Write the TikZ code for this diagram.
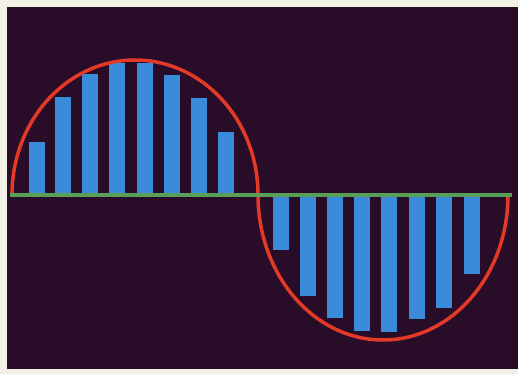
\documentclass[tikz,border=0pt]{standalone}
\definecolor{paper}{RGB}{243,241,230}
\definecolor{bgdark}{RGB}{40,12,40}
\definecolor{barblue}{RGB}{58,140,218}
\definecolor{curvered}{RGB}{226,58,38}
\definecolor{axisgreen}{RGB}{88,160,88}
\begin{document}
\begin{tikzpicture}[x=1pt,y=1pt,
  bar/.style={fill=barblue},
  curve/.style={draw=curvered,line width=3.5pt},
  axisline/.style={draw=axisgreen,line width=4pt}]
% canvas (y up: Y = 374 - y_image)
\fill[paper] (0,0) rectangle (518,374);
\useasboundingbox (0,0) rectangle (518,374);
\fill[bgdark] (7,5) rectangle (518,367);
% upper bars: x_left, x_right, top (image y)
\foreach \a/\b/\t in {29/45/142,55/71/97,82/98/74,109/125/63,137/153/63,164/180/75,191/207/98,218/234/132}
  \fill[bar] (\a,179) rectangle (\b,374-\t);
% lower bars: x_left, x_right, bottom (image y)
\foreach \a/\b/\t in {273/289/250,300/316/296,327/343/318,354/370/331,381/397/332,409/425/319,436/452/308,464/480/274}
  \fill[bar] (\a,179) rectangle (\b,374-\t);
% red curve (two half ellipses)
\draw[curve] (12,179) arc[start angle=180,end angle=0,x radius=123,y radius=135]
  arc[start angle=180,end angle=360,x radius=125,y radius=145];
% green axis
\draw[axisline] (10,179) -- (512,179);
\end{tikzpicture}
\end{document}
